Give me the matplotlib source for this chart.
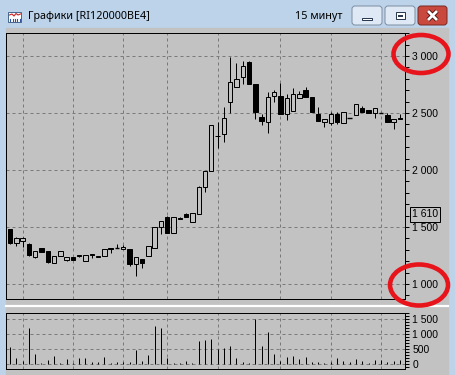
import numpy as np
import matplotlib.pyplot as plt
from matplotlib.patches import Rectangle, FancyBboxPatch, Ellipse
from matplotlib.ticker import MultipleLocator, FixedLocator, FuncFormatter

# 15-minute candles
opens = [1480, 1357, 1380, 1351, 1234, 1313, 1289, 1187, 1246, 1208,
         1240, 1252, 1199, 1263, 1234, 1246, 1313, 1313, 1304, 1307,
         1175, 1219, 1246, 1318, 1497, 1585, 1450, 1582, 1611, 1547,
         1614, 1848, 1991, 2302, 2313, 2594, 2731, 2818, 2945, 2752,
         2468, 2418, 2652, 2649, 2491, 2520, 2634, 2702, 2643, 2491,
         2418, 2410, 2491, 2410, 2453, 2482, 2547, 2526, 2497, 2503,
         2482, 2424, 2459]
highs = [1485, 1410, 1410, 1360, 1289, 1318, 1289, 1246, 1289, 1234,
         1240, 1255, 1257, 1265, 1248, 1304, 1315, 1351, 1340, 1307,
         1234, 1219, 1336, 1497, 1555, 1600, 1585, 1590, 1625, 1620,
         1860, 1991, 2392, 2424, 2555, 2994, 2941, 2959, 2955, 2752,
         2491, 2687, 2700, 2760, 2670, 2717, 2690, 2725, 2643, 2555,
         2447, 2510, 2510, 2506, 2453, 2579, 2560, 2526, 2541, 2503,
         2500, 2447, 2491]
lows = [1352, 1333, 1327, 1245, 1230, 1283, 1180, 1180, 1246, 1205,
        1208, 1240, 1199, 1225, 1234, 1246, 1275, 1313, 1304, 1158,
        1070, 1143, 1246, 1318, 1438, 1450, 1450, 1570, 1585, 1547,
        1614, 1810, 1991, 2190, 2248, 2497, 2731, 2752, 2752, 2447,
        2395, 2322, 2599, 2491, 2439, 2520, 2634, 2643, 2511, 2433,
        2375, 2395, 2405, 2410, 2453, 2482, 2511, 2503, 2453, 2503,
        2424, 2357, 2447]
closes = [1357, 1406, 1406, 1254, 1289, 1283, 1193, 1246, 1289, 1234,
          1208, 1243, 1257, 1252, 1248, 1304, 1304, 1313, 1327, 1175,
          1234, 1187, 1336, 1497, 1555, 1450, 1585, 1572, 1585, 1620,
          1853, 1991, 2392, 2295, 2453, 2775, 2796, 2912, 2752, 2511,
          2433, 2643, 2681, 2491, 2629, 2664, 2664, 2643, 2511, 2433,
          2447, 2491, 2418, 2506, 2453, 2579, 2511, 2503, 2541, 2503,
          2424, 2447, 2447]
volumes = [577, 211, 100, 1210, 333, 45, 133, 267, 45, 167,
           45, 211, 211, 80, 80, 244, 20, 80, 80, 80,
           467, 100, 300, 1277, 1210, 211, 45, 20, 100, 20,
           767, 800, 833, 489, 522, 600, 189, 80, 45, 1489,
           611, 1077, 322, 111, 244, 267, 155, 222, 80, 80,
           20, 80, 189, 111, 80, 155, 111, 20, 133, 133,
           80, 111, 133]

grid_bars = [2, 10, 18, 25, 33, 43, 51, 59]
price_ticks = [1000, 1500, 2000, 2500, 3000]
volume_ticks = [0, 500, 1000, 1500]
last_price = 1610
title_text = "Графики [RI120000BE4]"
interval_text = "15 минут"

W, H = 456, 375
GRAY = "#c2c2c2"
FRAME = "#bcd3ea"
GRID = "#7a7a7a"
PX = 0.72  # one pixel in points

fig = plt.figure(figsize=(W / 100, H / 100), dpi=100)


def px_axes(left, top, right, bottom):
    return fig.add_axes([left / W, 1 - bottom / H, (right - left) / W, (bottom - top) / H])


def thousands(v, pos=None):
    return f"{v:,.0f}".replace(",", " ")


# window chrome
bg = fig.add_axes([0, 0, 1, 1])
bg.set_xlim(0, W)
bg.set_ylim(H, 0)
bg.axis("off")
bg.add_patch(Rectangle((0, 0), W, H, color=FRAME))
bg.add_patch(Rectangle((6, 28), 442, H - 28, color=GRAY))
bg.plot([6, 448], [305.5, 305.5], color="white", lw=1.6)

# title icon
bg.add_patch(Rectangle((8.5, 12), 13, 10, fc="white", ec="#4a6a90", lw=PX))
bg.plot([9.5, 12, 14, 16, 18, 20.5], [15, 14, 16, 13.5, 15, 14], color="#d02020", lw=0.8)
for i in range(5):
    bg.plot([10.5 + i * 2.3, 10.5 + i * 2.3], [21, 18.5], color="#3050a0", lw=0.8)
bg.text(28, 17, title_text, fontsize=7.8, family="Noto Sans", va="center", ha="left", color="black")
bg.text(343, 16.5, interval_text, fontsize=7.8, family="Noto Sans", va="center", ha="right", color="black")

# caption buttons
for x0, fc in [(352, "#dfe9f5"), (385, "#dfe9f5")]:
    bg.add_patch(FancyBboxPatch((x0, 6), 30, 19, boxstyle="round,pad=0,rounding_size=3",
                                fc=fc, ec="#7f8fa3", lw=PX))
bg.add_patch(FancyBboxPatch((418, 6), 29, 19, boxstyle="round,pad=0,rounding_size=3",
                            fc="#c9493e", ec="#7a2a22", lw=PX))
bg.add_patch(Rectangle((362, 17.5), 10, 2.5, fc="white", ec="#2a3a50", lw=PX))
bg.add_patch(Rectangle((396, 12), 9, 7, fc="white", ec="#2a3a50", lw=PX))
bg.add_patch(Rectangle((398, 14.5), 5, 2.5, fc="#2a3a50", ec="none"))
bg.plot([428, 437], [11, 20], color="#3a1010", lw=3.2, solid_capstyle="butt")
bg.plot([428, 437], [20, 11], color="#3a1010", lw=3.2, solid_capstyle="butt")
bg.plot([428, 437], [11, 20], color="white", lw=2.0, solid_capstyle="butt")
bg.plot([428, 437], [20, 11], color="white", lw=2.0, solid_capstyle="butt")

# price panel
ax = px_axes(6, 33, 405, 299)
vol = px_axes(6, 313, 405, 369)

x = np.arange(len(opens))
o = np.array(opens)
c = np.array(closes)
up = c > o
down = c < o
flat = c == o

for a in (ax, vol):
    a.set_facecolor(GRAY)
    a.set_xlim(-0.64, 62.8)
    a.set_xticks([])
    for s in a.spines.values():
        s.set_color("black")
        s.set_linewidth(PX)
    a.yaxis.tick_right()
    a.tick_params(axis="y", which="both", direction="out", length=3.2, width=PX,
                  pad=2, labelsize=7.5, colors="black")
    for lbl in a.get_yticklabels():
        lbl.set_family("Liberation Sans")
    for g in grid_bars:
        a.axvline(g, color=GRID, lw=PX, ls=(0, (3, 3)), zorder=0.5)

ax.set_ylim(868, 3202)
ax.yaxis.set_major_locator(FixedLocator(price_ticks))
ax.yaxis.set_minor_locator(MultipleLocator(100))
ax.yaxis.set_major_formatter(FuncFormatter(thousands))
for p in price_ticks:
    ax.axhline(p, color=GRID, lw=PX, ls=(0, (3, 3)), zorder=0.5)

ax.vlines(x, lows, highs, color="black", lw=PX, zorder=2)
ax.bar(x[up], (c - o)[up], bottom=o[up], width=0.7, color=GRAY, edgecolor="black", linewidth=PX, zorder=3)
ax.bar(x[down], (o - c)[down], bottom=c[down], width=0.7, color="black", edgecolor="black", linewidth=PX, zorder=3)
ax.hlines(o[flat], x[flat] - 0.35, x[flat] + 0.35, color="black", lw=1.0, zorder=3)

ax.text(1.018, last_price, thousands(last_price), transform=ax.get_yaxis_transform(),
        ha="left", va="center", fontsize=7.5, family="Liberation Sans", clip_on=False,
        bbox=dict(boxstyle="square,pad=0.2", fc="none", ec="black", lw=PX))

# volume panel
vol.set_ylim(-167, 1700)
vol.yaxis.set_major_locator(FixedLocator(volume_ticks))
vol.yaxis.set_minor_locator(MultipleLocator(100))
vol.yaxis.set_major_formatter(FuncFormatter(thousands))
for v in volume_ticks:
    vol.axhline(v, color=GRID, lw=PX, ls=(0, (3, 3)), zorder=0.5)
vol.vlines(x, 0, volumes, color="black", lw=PX, zorder=3)

for a in (ax, vol):
    for lbl in a.get_yticklabels():
        lbl.set_family("Liberation Sans")

# red marks around the price labels
top = fig.add_axes([0, 0, 1, 1])
top.set_xlim(0, W)
top.set_ylim(H, 0)
top.axis("off")
top.patch.set_alpha(0)
top.add_patch(Ellipse((421, 54), 55, 38, fill=False, ec="#e8141c", lw=3.3))
top.add_patch(Ellipse((419, 285), 58, 41, fill=False, ec="#e8141c", lw=3.3))

fig.savefig("out.png", dpi=100, facecolor=FRAME)
